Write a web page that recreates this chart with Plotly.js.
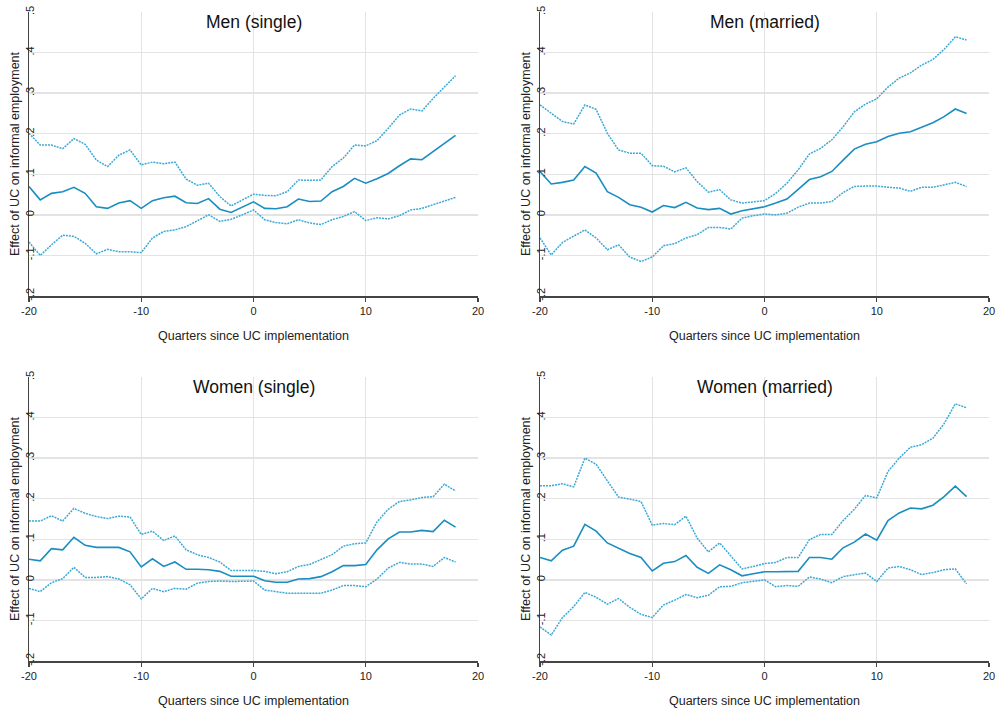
<!DOCTYPE html>
<html><head><meta charset="utf-8">
<script src="https://cdn.plot.ly/plotly-3.0.1.min.js"></script>
<style>html,body{margin:0;padding:0;background:#fff}#chart{width:999px;height:714px}</style>
</head><body><div id="chart"></div>
<script>
const quarters = [-20,-19,-18,-17,-16,-15,-14,-13,-12,-11,-10,-9,-8,-7,-6,-5,-4,-3,-2,-1,0,1,2,3,4,5,6,7,8,9,10,11,12,13,14,15,16,17,18];

const menSingleEst = [0.070,0.037,0.053,0.057,0.068,0.053,0.020,0.016,0.029,0.035,0.016,0.035,0.042,0.046,0.030,0.028,0.040,0.014,0.006,0.019,0.032,0.016,0.015,0.020,0.039,0.033,0.034,0.057,0.070,0.090,0.078,0.089,0.102,0.121,0.138,0.136,0.156,0.175,0.196];
const menSingleHi  = [0.201,0.172,0.172,0.163,0.188,0.174,0.135,0.119,0.147,0.160,0.123,0.130,0.126,0.130,0.088,0.073,0.078,0.045,0.022,0.037,0.051,0.048,0.047,0.057,0.086,0.085,0.086,0.119,0.140,0.172,0.170,0.183,0.213,0.246,0.261,0.256,0.287,0.315,0.343];
const menSingleLo  = [-0.067,-0.100,-0.074,-0.050,-0.053,-0.070,-0.096,-0.085,-0.091,-0.091,-0.093,-0.057,-0.041,-0.037,-0.029,-0.014,0.000,-0.016,-0.011,0.000,0.012,-0.012,-0.019,-0.022,-0.012,-0.020,-0.024,-0.012,-0.004,0.008,-0.014,-0.007,-0.010,-0.002,0.012,0.016,0.025,0.034,0.043];

const menMarriedEst = [0.107,0.076,0.080,0.086,0.119,0.103,0.057,0.043,0.025,0.019,0.007,0.023,0.018,0.031,0.017,0.013,0.016,0.002,0.010,0.015,0.020,0.029,0.039,0.063,0.087,0.094,0.107,0.135,0.162,0.174,0.180,0.193,0.201,0.205,0.217,0.227,0.242,0.261,0.250];
const menMarriedHi  = [0.271,0.250,0.230,0.224,0.271,0.260,0.201,0.160,0.152,0.152,0.121,0.120,0.106,0.116,0.082,0.056,0.062,0.037,0.029,0.032,0.035,0.053,0.078,0.111,0.150,0.164,0.185,0.217,0.254,0.273,0.286,0.315,0.337,0.350,0.369,0.383,0.408,0.439,0.431];
const menMarriedLo  = [-0.057,-0.099,-0.068,-0.053,-0.037,-0.057,-0.086,-0.074,-0.104,-0.115,-0.104,-0.076,-0.071,-0.057,-0.049,-0.031,-0.031,-0.035,-0.008,-0.002,0.002,0.000,0.004,0.019,0.029,0.029,0.033,0.055,0.070,0.071,0.071,0.068,0.066,0.058,0.068,0.068,0.074,0.080,0.070];

const womenSingleEst = [0.051,0.047,0.077,0.074,0.105,0.085,0.080,0.080,0.080,0.069,0.032,0.052,0.033,0.044,0.026,0.026,0.025,0.021,0.009,0.009,0.009,-0.002,-0.006,-0.006,0.002,0.003,0.008,0.020,0.035,0.035,0.038,0.074,0.101,0.118,0.118,0.122,0.119,0.147,0.130];
const womenSingleHi  = [0.145,0.145,0.158,0.145,0.176,0.164,0.156,0.151,0.157,0.155,0.112,0.120,0.097,0.108,0.074,0.062,0.055,0.044,0.023,0.023,0.023,0.021,0.015,0.020,0.033,0.038,0.050,0.062,0.083,0.089,0.091,0.143,0.174,0.193,0.197,0.203,0.205,0.236,0.219];
const womenSingleLo  = [-0.021,-0.029,-0.007,0.003,0.031,0.006,0.006,0.008,0.002,-0.012,-0.047,-0.021,-0.029,-0.021,-0.023,-0.008,-0.004,-0.003,-0.004,-0.003,-0.003,-0.025,-0.029,-0.033,-0.033,-0.033,-0.033,-0.025,-0.014,-0.014,-0.017,0.002,0.029,0.043,0.039,0.039,0.033,0.055,0.044];

const womenMarriedEst = [0.055,0.047,0.073,0.083,0.137,0.120,0.091,0.079,0.065,0.055,0.022,0.041,0.045,0.060,0.031,0.016,0.037,0.025,0.010,0.015,0.020,0.020,0.020,0.021,0.055,0.055,0.051,0.079,0.093,0.113,0.098,0.146,0.165,0.177,0.175,0.184,0.205,0.231,0.205];
const womenMarriedHi  = [0.232,0.232,0.237,0.229,0.300,0.285,0.244,0.204,0.199,0.193,0.135,0.139,0.136,0.157,0.103,0.069,0.091,0.058,0.027,0.033,0.040,0.043,0.055,0.055,0.099,0.112,0.112,0.146,0.174,0.208,0.202,0.267,0.300,0.327,0.333,0.349,0.385,0.434,0.424];
const womenMarriedLo  = [-0.116,-0.136,-0.093,-0.066,-0.031,-0.043,-0.060,-0.046,-0.068,-0.085,-0.093,-0.062,-0.050,-0.036,-0.044,-0.038,-0.017,-0.016,-0.007,-0.004,0.000,-0.017,-0.014,-0.016,0.007,0.002,-0.007,0.008,0.012,0.017,-0.004,0.029,0.033,0.025,0.013,0.018,0.025,0.027,-0.010];

const panelTitles = ["Men (single)","Men (married)","Women (single)","Women (married)"];
const xTickVals = [-20,-10,0,10,20];
const yTickVals = [-0.2,-0.1,0,0.1,0.2,0.3,0.4,0.5];
const yTickText = ["-.2","-.1","0",".1",".2",".3",".4",".5"];
const yGridVals = [-0.1,0,0.1,0.2,0.3,0.4];
const xTitle = "Quarters since UC implementation";
const yTitle = "Effect of UC on informal employment";

const panels = [
  {est: menSingleEst, hi: menSingleHi, lo: menSingleLo},
  {est: menMarriedEst, hi: menMarriedHi, lo: menMarriedLo},
  {est: womenSingleEst, hi: womenSingleHi, lo: womenSingleLo},
  {est: womenMarriedEst, hi: womenMarriedHi, lo: womenMarriedLo}
];

const W = 999, H = 714;
const boxes = [
  {l:29, r:478, t:12, b:296},
  {l:540, r:989, t:12, b:296},
  {l:29, r:478, t:377, b:661},
  {l:540, r:989, t:377, b:661}
];

const solidColor = "#1a8dc1";
const dotColor = "#3aa9d6";
const font = "Liberation Sans, Arial, sans-serif";

const data = [];
const layout = {
  width: W, height: H,
  margin: {l:0, r:0, t:0, b:0},
  paper_bgcolor: "#fff", plot_bgcolor: "#fff",
  showlegend: false,
  font: {family: font, color: "#222"},
  annotations: []
};

panels.forEach((p, i) => {
  const n = i + 1;
  const xa = n === 1 ? "x" : "x" + n;
  const ya = n === 1 ? "y" : "y" + n;
  const b = boxes[i];
  data.push({x: quarters, y: p.hi, xaxis: xa, yaxis: ya, mode: "lines", line: {color: dotColor, width: 1.5, dash: "2px,1px"}, hoverinfo: "skip"});
  data.push({x: quarters, y: p.lo, xaxis: xa, yaxis: ya, mode: "lines", line: {color: dotColor, width: 1.5, dash: "2px,1px"}, hoverinfo: "skip"});
  data.push({x: quarters, y: p.est, xaxis: xa, yaxis: ya, mode: "lines", line: {color: solidColor, width: 1.6}, hoverinfo: "skip"});
  layout["xaxis" + (n === 1 ? "" : n)] = {
    domain: [b.l / W, b.r / W], anchor: ya, range: [-20, 20],
    tickmode: "array", tickvals: xTickVals, ticktext: xTickVals.map(String),
    showgrid: true, gridcolor: "#e3e3e3", gridwidth: 1.3, zeroline: false,
    showline: true, linecolor: "#444", linewidth: 1.5,
    ticks: "outside", ticklen: 4, tickcolor: "#444", tickwidth: 1.2,
    tickfont: {size: 11, family: font, color: "#222"},
    title: {text: xTitle, font: {size: 12.5, family: font, color: "#222"}, standoff: 15}
  };
  layout["yaxis" + (n === 1 ? "" : n)] = {
    domain: [1 - b.b / H, 1 - b.t / H], anchor: xa, range: [-0.2, 0.5],
    tickmode: "array", tickvals: yTickVals, ticktext: yTickText,
    tickangle: -90, ticklabelposition: "outside", ticklabelstandoff: -11,
    showgrid: false, zeroline: false,
    minor: {tickmode: "array", tickvals: yGridVals, showgrid: true, gridcolor: "#e3e3e3", gridwidth: 1.3, ticks: ""},
    showline: true, linecolor: "#444", linewidth: 1.5,
    ticks: "", tickfont: {size: 11, family: font, color: "#222"}
  };
  layout.annotations.push({
    text: yTitle, textangle: -90, xref: "paper", yref: ya + " domain",
    x: (b.l - 14) / W, y: 0.5, xanchor: "center", yanchor: "middle",
    showarrow: false, font: {size: 12.5, family: font, color: "#222"}
  });
  layout.annotations.push({
    text: panelTitles[i], xref: xa + " domain", yref: ya + " domain",
    x: 0.5, y: 1 - 10 / (b.b - b.t), xanchor: "center", yanchor: "middle",
    showarrow: false, font: {size: 17.5, family: font, color: "#111"}
  });
});

Plotly.newPlot("chart", data, layout, {displayModeBar: false, staticPlot: true});
</script></body></html>
